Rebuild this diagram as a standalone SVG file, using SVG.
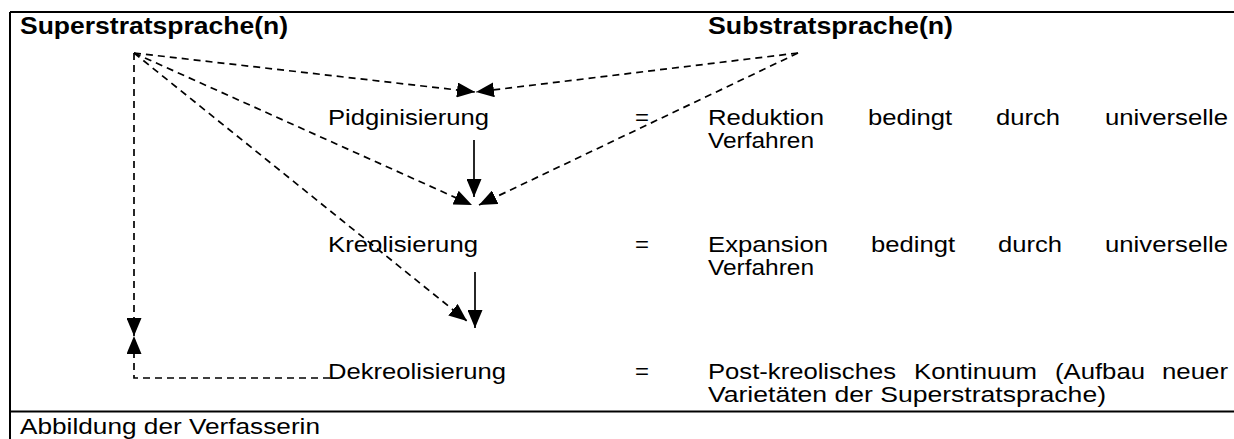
<svg xmlns="http://www.w3.org/2000/svg" width="1234" height="439" viewBox="0 0 1234 439">
<style>
text{font-family:"Liberation Sans",Arial,sans-serif;font-size:22px;fill:#000}
.b{font-weight:bold;font-size:23px}
.frame{stroke:#000;stroke-width:2;fill:none}
.d{stroke:#000;stroke-width:1.7;fill:none;stroke-dasharray:7 5}
.s{stroke:#000;stroke-width:1.7;fill:none}
</style>
<defs>
<marker id="ah" markerUnits="userSpaceOnUse" markerWidth="18" markerHeight="15" refX="18" refY="7.5" orient="auto" viewBox="0 0 18 15">
<path d="M0,0 L18,7.5 L0,15 Z" fill="#000"/>
</marker>
</defs>
<g id="frame">
<path class="frame" d="M10,12 H1234 M10,12 V439 M10,411.5 H1234"/>
</g>
<g id="superstrat"><text class="b" x="20" y="34" textLength="268" lengthAdjust="spacingAndGlyphs">Superstratsprache(n)</text></g>
<g id="substrat"><text class="b" x="708" y="34" textLength="245" lengthAdjust="spacingAndGlyphs">Substratsprache(n)</text></g>
<g id="pidgin">
<text x="328" y="125" textLength="161" lengthAdjust="spacingAndGlyphs">Pidginisierung</text>
<text x="635" y="125" textLength="14" lengthAdjust="spacingAndGlyphs">=</text>
<text x="708" y="125" textLength="116" lengthAdjust="spacingAndGlyphs">Reduktion</text>
<text x="868" y="125" textLength="84" lengthAdjust="spacingAndGlyphs">bedingt</text>
<text x="996" y="125" textLength="64" lengthAdjust="spacingAndGlyphs">durch</text>
<text x="1105" y="125" textLength="123" lengthAdjust="spacingAndGlyphs">universelle</text>
<text x="708" y="148" textLength="106" lengthAdjust="spacingAndGlyphs">Verfahren</text>
</g>
<g id="kreol">
<text x="328" y="252" textLength="150" lengthAdjust="spacingAndGlyphs">Kreolisierung</text>
<text x="635" y="252" textLength="14" lengthAdjust="spacingAndGlyphs">=</text>
<text x="708" y="252" textLength="120" lengthAdjust="spacingAndGlyphs">Expansion</text>
<text x="871" y="252" textLength="84" lengthAdjust="spacingAndGlyphs">bedingt</text>
<text x="998" y="252" textLength="64" lengthAdjust="spacingAndGlyphs">durch</text>
<text x="1105" y="252" textLength="123" lengthAdjust="spacingAndGlyphs">universelle</text>
<text x="708" y="275" textLength="106" lengthAdjust="spacingAndGlyphs">Verfahren</text>
</g>
<g id="dekreol">
<text x="328" y="379" textLength="178" lengthAdjust="spacingAndGlyphs">Dekreolisierung</text>
<text x="635" y="379" textLength="14" lengthAdjust="spacingAndGlyphs">=</text>
<text x="708" y="379" textLength="188" lengthAdjust="spacingAndGlyphs">Post-kreolisches</text>
<text x="914" y="379" textLength="123" lengthAdjust="spacingAndGlyphs">Kontinuum</text>
<text x="1055" y="379" textLength="90" lengthAdjust="spacingAndGlyphs">(Aufbau</text>
<text x="1162" y="379" textLength="66" lengthAdjust="spacingAndGlyphs">neuer</text>
<text x="708" y="402" textLength="398" lengthAdjust="spacingAndGlyphs">Varietäten der Superstratsprache)</text>
</g>
<g id="caption"><text x="20" y="434" textLength="300" lengthAdjust="spacingAndGlyphs">Abbildung der Verfasserin</text></g>
<g id="connectors">
<path class="d" d="M134,53 L475,92" marker-end="url(#ah)"/>
<path class="d" d="M798,53 L476,92" marker-end="url(#ah)"/>
<path class="d" d="M134,53 L472,205" marker-end="url(#ah)"/>
<path class="d" d="M798,53 L479,205" marker-end="url(#ah)"/>
<path class="d" d="M134,53 L467,321" marker-end="url(#ah)"/>
<path class="d" d="M134,53 L134,336" marker-end="url(#ah)"/>
<path class="d" d="M330,378 L134,378 L134,336" marker-end="url(#ah)"/>
<path class="s" d="M474,140 L474,197" marker-end="url(#ah)"/>
<path class="s" d="M475,272 L475,328" marker-end="url(#ah)"/>
</g>
</svg>
